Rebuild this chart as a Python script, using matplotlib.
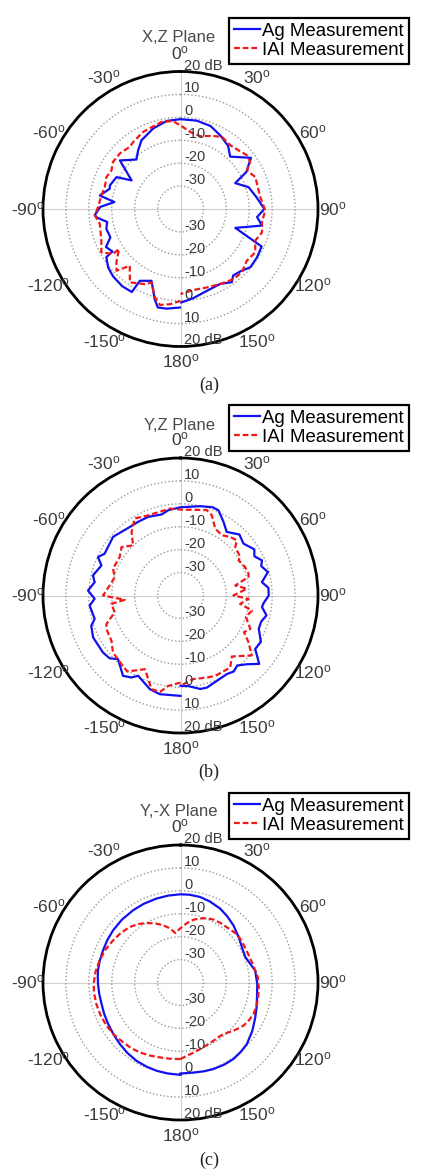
import numpy as np
import matplotlib
matplotlib.use("Agg")
import matplotlib.pyplot as plt
from matplotlib.transforms import offset_copy

plt.rcParams['font.family'] = ['Liberation Sans', 'DejaVu Sans']
plt.rcParams['mathtext.fontset'] = 'custom'
plt.rcParams['mathtext.rm'] = 'Liberation Sans'
plt.rcParams['mathtext.it'] = 'Liberation Sans:italic'

# ---------------- data (theta in degrees, value in dB) ----------------
xz_ag_theta = [-179.7, -172, -167, -164, -158, -150.5, -149.6, -143, -135, -129, -123, -122, -117, -112, -105,
               -100, -96, -94, -88.5, -84, -80.5, -74, -71.6, -63.5, -59.7, -51.3, -41.7, -35.8, -29.5, -18.7,
               -8.9, 0, 10.4, 19.9, 28.5, 37, 43.5, 54, 60.7, 64.7, 72.2, 81, 90, 96, 101.5, 109, 114.8, 122.3,
               129.7, 136.3, 141.6, 145, 152, 162, 171.8, 179.5]
xz_ag_db = [3.0, 3.9, 4.1, 0.9, -6.2, -4.0, 2.0, 2.2, 1.6, 0.6, -1.4, -5.0, -3.5, -7.0, -6.5,
            -7.5, -3.5, -2.5, -5.0, -11.0, -4.3, -7.9, -7.5, -8.8, -15.3, -6.1, -11.1, -8.4, -5.5, -2.9,
            -1.1, -0.8, -0.8, -1.5, -3.5, -5.5, -8.5, -2.0, -7.1, -13.6, -8.8, -6.5, -3.4, -6.4, -3.7, -14.7, -1.0, -0.5,
            -0.3, -2.3, -3.0, -1.0, -3.0, -2.5, -0.7, 0.8]
xz_iai_theta = [-180, -173.7, -167.9, -163.9, -158.5, -154.6, -145.4, -138.2, -134, -129.8, -123, -123.7, -118.7,
                -111.8, -100.4, -94.3, -88.7, -80, -73.9, -66.7, -60.8, -55.1, -47.6, -39.3, -35, -26, -18, -12,
                -5, 0, 7, 15, 24, 30, 38, 44.6, 51, 56, 59.8, 67, 81.6, 91, 99, 106, 113, 120, 128, 136, 143, 152,
                161.5, 171, 180]
xz_iai_db = [0.1, 1.8, 2.8, 0.2, -5.5, -3.7, -1.1, -6.8, -1.2, -3.6, -8.0, -4.6, -0.6,
             -2.8, -4.2, -2.5, -4.0, -5.0, -5.6, -4.8, -5.5, -4.1, -4.1, -5.0, -4.2, -2.6, -2.0, -1.1,
             -1.5, -3.5, -6.1, -7.1, -5.1, -3.7, -4.7, -4.0, -2.7, -3.3, -6.4, -4.5, -4.8, -3.0, -4.0, -3.0, -4.6,
             -2.3, -3.3, -1.5, -1.7, -2.9, -3.9, -4.2, -2.9]

yz_ag_theta = [-180, -168.2, -161.9, -152.2, -149.1, -144.4, -135.5, -131.6, -126.3, -115.6, -108.7, -105.2,
               -96.3, -92.2, -86.9, -81.2, -77.1, -69.2, -65, -61.1, -49, -36.5, -29.9, -22.3, -13.1, -8.2, 0,
               12.4, 20, 24, 30.3, 36, 44, 50.5, 58, 62, 66.7, 70, 75, 80.7, 85, 90, 95, 98, 103, 108, 113, 120,
               125.6, 131, 136, 141, 145, 149.5, 157, 164, 168, 175, 180]
yz_ag_db = [3.8, 4.0, 3.0, -0.4, 1.7, 3.1, -1.1, 1.3, 2.0, 2.3, 1.1, -1.2,
            -0.1, -2.5, 0.4, -2.1, -0.8, -3.1, -0.3, -2.2, -1.0, -2.8, -2.9, -2.9, -3.7, -2.4, -1.5,
            -0.1, 1.0, 0.7, -2.8, -5.7, -3.0, -4.4, -2.0, -3.5, -1.3, -2.5, -0.5, -4.0, -1.5, -1.5, -3.5, -4.1,
            -1.5, -3.0, -2.9, 0.5, 0.1, 5.5, 1.7, -0.7, 0.5, -0.2, 0.5, 1.8, 1.7, -0.3, -0.6]
yz_iai_theta = [-180, -172.3, -168, -162.8, -158.9, -154.2, -145, -137, -130, -123.2, -114.3, -111, -104.3,
                -96.9, -94.4, -90, -81.9, -74.4, -68.3, -57.7, -50.6, -43.4, -37.6, -30.7, -23.1, -6.9, 0, 17.1,
                21.3, 27.4, 34.5, 40.3, 45.6, 48.5, 57.2, 58.8, 66.3, 72.3, 74.9, 79.6, 84.2, 90, 92.8, 98, 101.9,
                108, 115.6, 120, 124.6, 130.1, 139.9, 145.4, 156.7, 162.2, 171.3, 180]
yz_iai_db = [-2.0, -0.2, 3.0, 2.8, -0.9, -4.3, 0.5, -0.8, -1.5, -4.0, -4.5, -5.4, -10.4,
             -9.6, -15.6, -6.2, -8.8, -10.2, -8.3, -8.6, -6.7, -9.9, -5.0, -0.9, -2.2, -1.8, -2.5, -1.0,
             -2.4, -7.1, -8.1, -6.5, -5.6, -8.1, -9.0, -10.4, -9.2, -8.8, -9.3, -15.7, -10.9, -16.9, -10.3,
             -13.7, -8.1, -10.0, -6.2, -8.0, -3.9, 0.6, -5.2, -1.8, -1.8, -2.4, -3.1, -0.6]

yx_ag_theta = [-180, -172, -164.9, -158, -150.7, -143, -135.4, -128, -119.8, -112, -105.1, -98, -91.4, -86,
               -81.7, -75, -67.5, -60, -52.3, -43, -33.2, -25, -15.9, -8, 0, 6, 12.9, 20, 28.2, 35, 42.8, 51.9,
               55.9, 62, 68.6, 75, 81, 91, 100.9, 108, 115, 124, 132.8, 139, 145.3, 152, 159.2, 165, 171.9, 180]
yx_ag_db = [0.3, 0.1, -0.1, -0.4, -0.8, -1.5, -2.3, -3.0, -3.6, -4.0, -4.3, -4.2, -4.0, -3.8,
            -3.6, -3.5, -3.4, -3.1, -2.8, -2.5, -2.3, -2.1, -1.9, -1.7, -1.5, -1.5, -1.7, -2.4, -3.4, -4.6,
            -6.0, -7.8, -8.5, -9.3, -9.6, -8.5, -7.0, -6.5, -6.0, -5.1, -4.0, -2.2, -0.5, 0.1, 0.6, 0.6, 0.4,
            0.1, -0.3, -0.3]
yx_iai_theta = [-180, -172, -164.7, -157, -149.8, -143, -136.2, -128, -120.2, -112, -104.3, -97, -90.9, -83,
                -74.7, -66, -58, -50, -42.4, -36, -29.7, -23, -16.8, -10.8, -6, -2, 4, 9, 13, 17, 22, 27.6,
                34, 40.7, 50, 57, 63.6, 69, 75.3, 86, 93, 100.7, 107, 113.3, 119, 124.4, 128, 132.3, 136,
                140.2, 145, 150.5, 157, 163.6, 170, 175.1, 180]
yx_iai_db = [-6.6, -6.4, -6.1, -5.4, -4.7, -4.2, -3.8, -3.1, -2.6, -2.3, -2.1, -2.0, -2.1, -2.6,
             -3.4, -4.3, -5.3, -6.2, -7.2, -8.5, -10.1, -12.0, -13.9, -16.0, -18.3, -17.0, -14.8, -12.8,
             -11.7, -10.8, -9.7, -9.0, -8.7, -8.5, -7.5, -7.8, -8.0, -7.9, -7.5, -6.2, -5.8, -5.5, -5.3,
             -5.3, -5.9, -6.7, -7.7, -8.7, -9.8, -10.7, -11.0, -10.8, -10.4, -9.7, -8.8, -7.9, -6.6]

titles = ["X,Z Plane", "Y,Z Plane", "Y,-X Plane"]
captions = ["(a)", "(b)", "(c)"]
series_labels = ["Ag Measurement", "IAI Measurement"]
angle_ticks = [0, 30, 60, 90, 120, 150, 180, 210, 240, 270, 300, 330]
angle_labels = ["0", "30", "60", "90", "120", "150", "180", "-150", "-120", "-90", "-60", "-30"]
ring_values = [-30, -20, -10, 0, 10]
r_min, r_max = -40, 20

panels = [
    (xz_ag_theta, xz_ag_db, xz_iai_theta, xz_iai_db),
    (yz_ag_theta, yz_ag_db, yz_iai_theta, yz_iai_db),
    (yx_ag_theta, yx_ag_db, yx_iai_theta, yx_iai_db),
]

# ---------------- layout (pixels) ----------------
W, H = 425, 1171
fig = plt.figure(figsize=(W / 100, H / 100), dpi=100)
centers_y = [209, 595.5, 982.5]
cx, R = 180.5, 137.5
title_y = [37, 425, 811]
legend_top = [18, 405, 793]
caption_y = [385, 772, 1160]

gray_txt = '#3a3a3a'

for i, (ag_t, ag_v, iai_t, iai_v) in enumerate(panels):
    cy = centers_y[i]
    ax = fig.add_axes([(cx - R) / W, (H - cy - R) / H, 2 * R / W, 2 * R / H], projection='polar')
    ax.set_theta_zero_location('N')
    ax.set_theta_direction(-1)
    ax.set_ylim(r_min, r_max)
    ax.set_yticks(ring_values)
    ax.set_yticklabels([])
    ax.set_xticks(np.deg2rad([0, 90, 180, 270]))
    ax.set_xticklabels([])
    ax.tick_params(length=0)
    ax.xaxis.grid(True, color='#cfcfcf', lw=0.8, ls='-')
    ax.yaxis.grid(True, color='#9a9a9a', lw=1.0, ls=(0, (1, 1.6)))
    ax.spines['polar'].set_linewidth(2.0)
    ax.spines['polar'].set_color('black')

    l1, = ax.plot(np.deg2rad(ag_t), ag_v, color='#1010f0', lw=1.6, label=series_labels[0])
    l2, = ax.plot(np.deg2rad(iai_t), iai_v, color='#f01818', lw=1.6, ls=(0, (2.6, 1.3)),
                  label=series_labels[1])

    # angle labels
    for a, lab in zip(angle_ticks, angle_labels):
        rr = 28.0 if a == 0 else 26.6
        ax.text(np.deg2rad(a), rr, lab + r'$^{\mathrm{o}}$', ha='center', va='center',
                fontsize=12.5, color=gray_txt, clip_on=False)

    # radial labels
    tr = offset_copy(ax.transData, fig=fig, x=3.5, y=2.0, units='dots')
    for v in ring_values + [20]:
        lab = "20 dB" if v == 20 else str(v)
        ax.text(0, v, lab, transform=tr, ha='left', va='baseline', fontsize=10.5,
                color=gray_txt, clip_on=False)
        ax.text(np.pi, v, lab, transform=tr, ha='left', va='baseline', fontsize=10.5,
                color=gray_txt, clip_on=False)

    fig.text(179 / W, 1 - title_y[i] / H, titles[i], ha='center', va='center',
             fontsize=12, color='#4a4a4a')

    leg = ax.legend(handles=[l1, l2], loc='upper left',
                    bbox_to_anchor=(229 / W, 1 - legend_top[i] / H),
                    bbox_transform=fig.transFigure, fontsize=13.4, handlelength=1.4,
                    handletextpad=0.15, borderpad=0.25, labelspacing=0.12, borderaxespad=0,
                    fancybox=False, edgecolor='black', framealpha=1)
    leg.get_frame().set_linewidth(1.6)

    fig.text(209 / W, 1 - caption_y[i] / H, captions[i], ha='center', va='center',
             fontsize=13, family='Liberation Serif', color='#222222')

fig.savefig('out.png', dpi=100, facecolor='white')
